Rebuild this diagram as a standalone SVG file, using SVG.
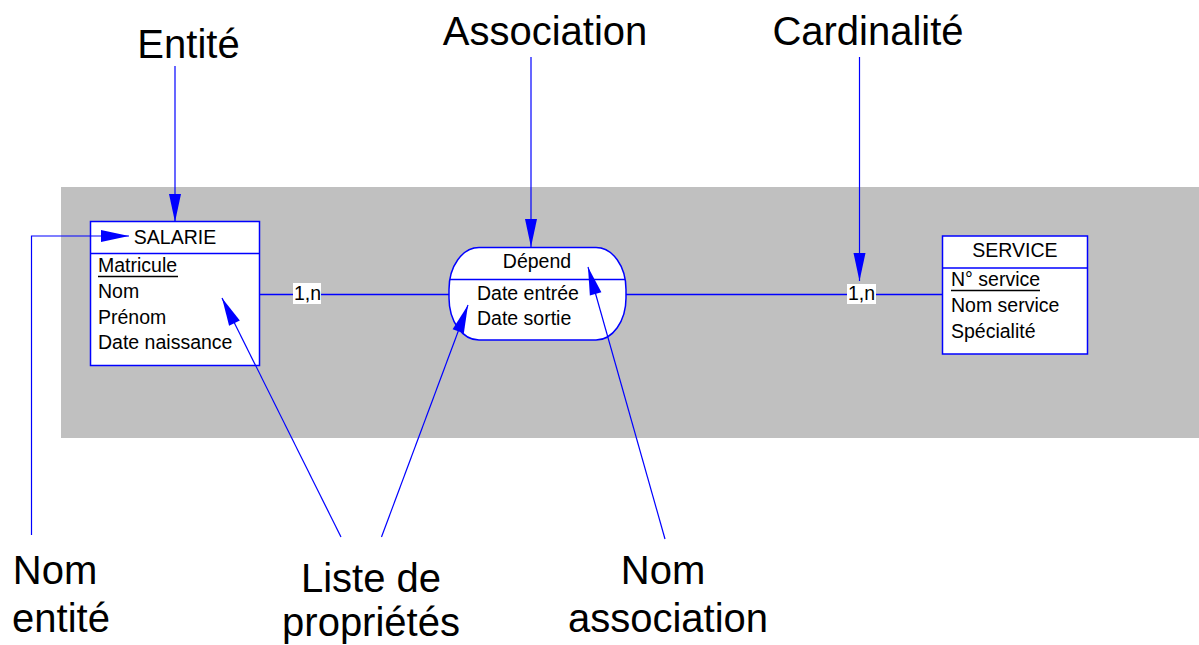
<svg xmlns="http://www.w3.org/2000/svg" width="1199" height="645" viewBox="0 0 1199 645">
  <style>
    .lbl { font-family: "Liberation Sans", Arial, sans-serif; font-size: 40px; fill: #000; }
    .txt { font-family: "Liberation Sans", Arial, sans-serif; font-size: 19.5px; fill: #000; }
    .box { fill: #fff; stroke: #0000ff; stroke-width: 1.5; }
    .sep { stroke: #0000ff; stroke-width: 1.3; fill: none; }
    .link { stroke: #0000ff; stroke-width: 1.5; fill: none; }
    .ptr { stroke: #0000ff; stroke-width: 1.2; fill: none; marker-end: url(#head); }
    .ul { stroke: #000; stroke-width: 1.5; }
    .card { fill: #fff; }
  </style>
  <defs>
    <marker id="head" markerUnits="userSpaceOnUse" markerWidth="28" markerHeight="12" refX="28" refY="6" orient="auto" overflow="visible">
      <path d="M0,0 L28,6 L0,12 Z" fill="#0000ff"/>
    </marker>
  </defs>

  <!-- model area -->
  <rect id="background" x="61" y="187" width="1138" height="251" fill="#c0c0c0"/>

  <!-- relationship lines with cardinalities -->
  <g id="connectors">
    <line class="link" x1="260" y1="294.5" x2="449" y2="294.5"/>
    <line class="link" x1="626" y1="294.5" x2="942" y2="294.5"/>
    <rect class="card" x="293" y="283" width="28" height="21"/>
    <text class="txt" x="294" y="300">1,n</text>
    <rect class="card" x="847" y="284" width="29" height="20"/>
    <text class="txt" x="848" y="300">1,n</text>
  </g>

  <!-- entity SALARIE -->
  <g id="salarie">
    <rect class="box" x="90.5" y="221.5" width="169" height="144"/>
    <line class="sep" x1="90.5" y1="253.5" x2="259.5" y2="253.5"/>
    <text class="txt" x="175" y="244" text-anchor="middle">SALARIE</text>
    <text class="txt" x="98" y="272">Matricule</text>
    <line class="ul" x1="98" y1="276.5" x2="178" y2="276.5"/>
    <text class="txt" x="98" y="298">Nom</text>
    <text class="txt" x="98" y="323.5">Prénom</text>
    <text class="txt" x="98" y="349">Date naissance</text>
  </g>

  <!-- association Dépend -->
  <g id="depend">
    <rect class="box" x="449" y="247.5" width="177" height="92.5" rx="30" ry="42"/>
    <line class="sep" x1="450" y1="279.5" x2="625" y2="279.5"/>
    <text class="txt" x="537" y="268" text-anchor="middle">Dépend</text>
    <text class="txt" x="477" y="300">Date entrée</text>
    <text class="txt" x="477" y="324.5">Date sortie</text>
  </g>

  <!-- entity SERVICE -->
  <g id="service">
    <rect class="box" x="942.5" y="236" width="145" height="118"/>
    <line class="sep" x1="942.5" y1="268" x2="1087.5" y2="268"/>
    <text class="txt" x="1015" y="257" text-anchor="middle">SERVICE</text>
    <text class="txt" x="951" y="286">N° service</text>
    <line class="ul" x1="951" y1="290.5" x2="1040" y2="290.5"/>
    <text class="txt" x="951" y="312">Nom service</text>
    <text class="txt" x="951" y="337.5">Spécialité</text>
  </g>

  <!-- annotation pointers -->
  <g id="pointers">
    <line class="ptr" x1="175" y1="66" x2="175" y2="222"/>
    <line class="ptr" x1="531" y1="57" x2="531" y2="247"/>
    <line class="ptr" x1="859.5" y1="57" x2="859.5" y2="281"/>
    <polyline class="ptr" points="31.5,535 31.5,236 129,236"/>
    <line class="ptr" x1="341" y1="537" x2="222" y2="298"/>
    <line class="ptr" x1="381.5" y1="537" x2="468" y2="305"/>
    <line class="ptr" x1="665" y1="539" x2="588" y2="267"/>
  </g>

  <!-- annotation captions -->
  <g id="captions">
    <text class="lbl" x="188.5" y="58" text-anchor="middle">Entité</text>
    <text class="lbl" x="545" y="45" text-anchor="middle">Association</text>
    <text class="lbl" x="868" y="45" text-anchor="middle">Cardinalité</text>
    <text class="lbl" x="55" y="584" text-anchor="middle">Nom</text>
    <text class="lbl" x="61" y="632" text-anchor="middle">entité</text>
    <text class="lbl" x="371" y="592" text-anchor="middle">Liste de</text>
    <text class="lbl" x="371" y="636" text-anchor="middle">propriétés</text>
    <text class="lbl" x="663" y="584" text-anchor="middle">Nom</text>
    <text class="lbl" x="668" y="632" text-anchor="middle">association</text>
  </g>
</svg>
